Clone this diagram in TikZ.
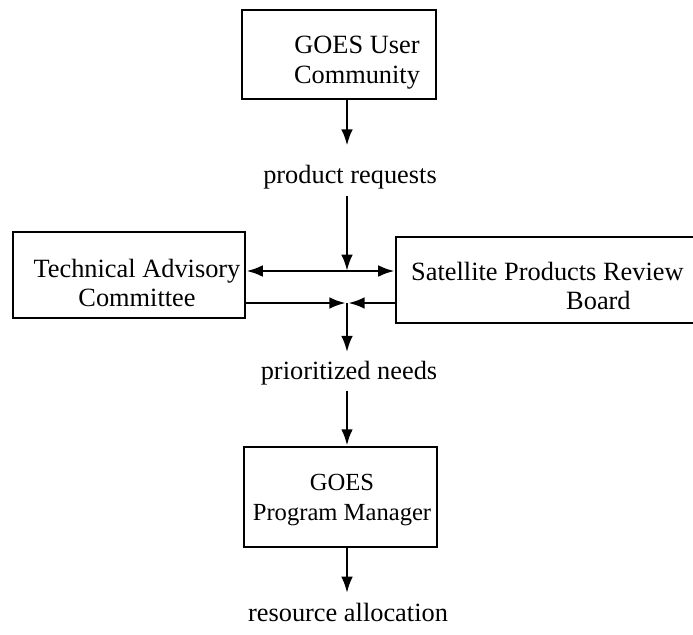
\documentclass[tikz,border=0pt]{standalone}
\usepackage{fontspec}
\setmainfont{Liberation Serif}
\usetikzlibrary{arrows.meta}
\newcommand{\dgfont}{\fontsize{22.5}{25.5}\selectfont}

\begin{document}
\begin{tikzpicture}[x=0.03cm,y=-0.03cm,
  box/.style={draw,line width=2.3pt,inner sep=0pt},
  txt/.style={font=\dgfont,inner sep=0pt,align=center},
  lbl/.style={font=\dgfont,inner sep=0pt,anchor=base},
  link/.style={line width=2.3pt,-{Latex[length=14pt,width=10pt]}}]
\useasboundingbox (0,0) rectangle (693,634);
\clip (0,0) rectangle (693,634);

% boxes
\node[box,minimum width=5.82cm,minimum height=2.67cm] (user) at (339,54.5) {};
\node[box,minimum width=6.96cm,minimum height=2.58cm] (tac) at (129,275) {};
\node[box,minimum width=9.42cm,minimum height=2.58cm] (sprb) at (553,280) {};
\node[box,minimum width=5.79cm,minimum height=3.0cm] (mgr) at (340.5,497) {};

% box texts
\node[txt] (userT) at (357,63) {GOES User\\Community};
\node[txt] (tacT) at (137,283) {Technical Advisory\\Committee};
\node[txt,align=left,anchor=west] (sprbT) at (411,286) {Satellite Products Review\\\hspace*{4.65cm}Board};
\node[txt,font=\fontsize{21}{25.5}\selectfont] (mgrT) at (342,500) {GOES\\Program Manager};

% labels between the boxes
\node[lbl] (req) at (350,183) {product requests};
\node[lbl] (needs) at (349,379) {prioritized needs};
\node[lbl] (alloc) at (348,621) {resource allocation};

% junctions
\coordinate (top) at (347,271);
\coordinate (bot) at (347,303);

% flows
\draw[link] (user.south -| top) -- ([yshift=16pt]req.north -| top);
\draw[link] ([yshift=-6pt]req.south -| top) -- (top);
\draw[link] (top) -- (top -| tac.east);
\draw[link] (top) -- (top -| sprb.west);
\draw[link] (bot -| tac.east) -- ([xshift=-1pt]bot);
\draw[link] (bot -| sprb.west) -- ([xshift=1pt]bot);
\draw[link] (bot) -- ([yshift=7pt]needs.north -| bot);
\draw[link] ([yshift=-5pt]needs.south -| bot) -- (mgr.north -| bot);
\draw[link] (mgr.south -| bot) -- ([yshift=8pt]alloc.north -| bot);
\end{tikzpicture}
\end{document}
